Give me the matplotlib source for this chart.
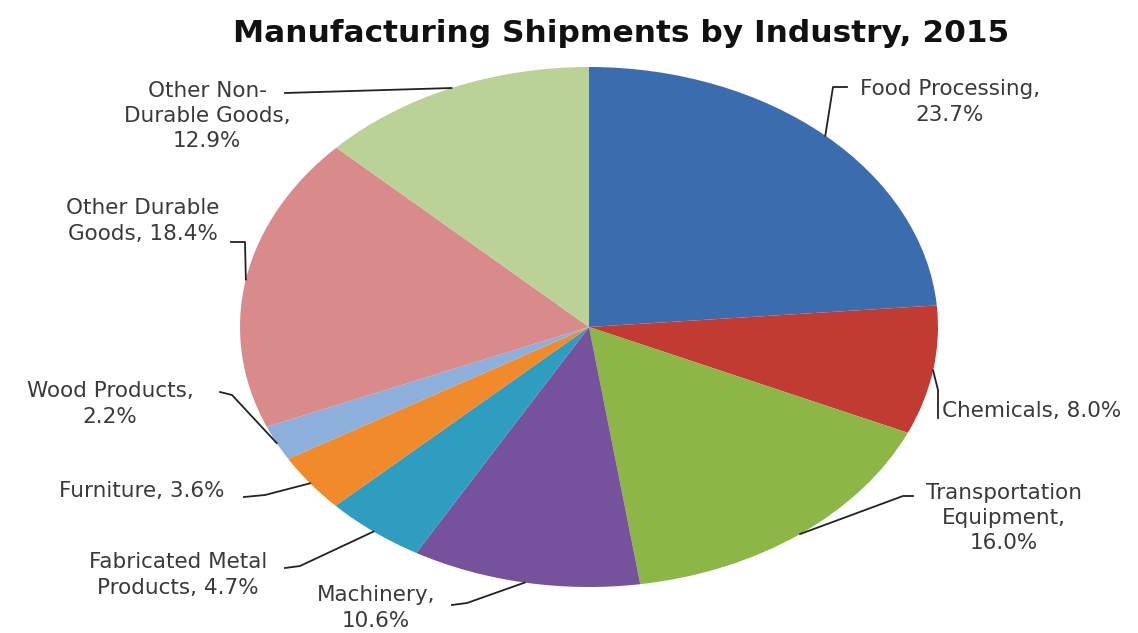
import numpy as np
import matplotlib
matplotlib.use("Agg")
import matplotlib.pyplot as plt

categories = ["Food Processing", "Chemicals", "Transportation Equipment", "Machinery",
              "Fabricated Metal Products", "Furniture", "Wood Products",
              "Other Durable Goods", "Other Non-Durable Goods"]
values = [23.7, 8.0, 16.0, 10.6, 4.7, 3.6, 2.2, 18.4, 12.9]
label_texts = ["Food Processing,\n23.7%", "Chemicals, 8.0%", "Transportation\nEquipment,\n16.0%",
               "Machinery,\n10.6%", "Fabricated Metal\nProducts, 4.7%", "Furniture, 3.6%",
               "Wood Products,\n2.2%", "Other Durable\nGoods, 18.4%", "Other Non-\nDurable Goods,\n12.9%"]
colors = ["#3B6CAE", "#C23B32", "#8CB645", "#76529C", "#2F9DC0", "#F18A2B",
          "#8CAFDC", "#D98A8B", "#BAD296"]

W, H = 1138, 633
cx, cy, rx, ry = 589, 327, 349, 260

fig = plt.figure(figsize=(W / 100, H / 100), dpi=100)
ax = fig.add_axes([0, 0, 1, 1])
wedges, _ = ax.pie(values, colors=colors, startangle=90, counterclock=False,
                   radius=1, center=(0, 0), wedgeprops=dict(linewidth=0))
ax.set_aspect("auto")
ax.set_xlim(-cx / rx, (W - cx) / rx)
ax.set_ylim((cy - H) / ry, cy / ry)
ax.axis("off")

ov = fig.add_axes([0, 0, 1, 1], facecolor="none")
ov.set_xlim(0, W)
ov.set_ylim(H, 0)
ov.axis("off")

ov.text(621, 34, "Manufacturing Shipments by Industry, 2015", ha="center", va="center",
        fontsize=22.5, fontweight="bold", family=["DejaVu Sans"], color="#111111")

# label layout: (text x, text y, ha, elbow points...)
layout = [
    (950, 102, "center", [(833, 87), (847, 87)]),
    (942, 411, "left", [(938, 390), (938, 418)]),
    (1004, 518, "center", [(903, 496), (913, 496)]),
    (376, 608, "center", [(467, 603), (452, 605)]),
    (178, 575, "center", [(300, 566), (285, 568)]),
    (142, 491, "center", [(265, 495), (244, 497)]),
    (110, 404, "center", [(232, 395), (220, 392)]),
    (143, 221, "center", [(245, 242), (231, 242)]),
    (207, 116, "center", [(285, 93)]),
]

for w, txt, (tx, ty, ha, pts) in zip(wedges, label_texts, layout):
    mid = np.deg2rad((w.theta1 + w.theta2) / 2)
    ex, ey = cx + rx * np.cos(mid), cy - ry * np.sin(mid)
    xs = [ex] + [p[0] for p in pts]
    ys = [ey] + [p[1] for p in pts]
    ov.plot(xs, ys, color="#222222", lw=1.3)
    ov.text(tx, ty, txt, ha=ha, va="center", multialignment="center", fontsize=15.5,
            linespacing=1.33, color="#3a3a3a", family=["DejaVu Sans"])

fig.savefig("out.png", dpi=100)
